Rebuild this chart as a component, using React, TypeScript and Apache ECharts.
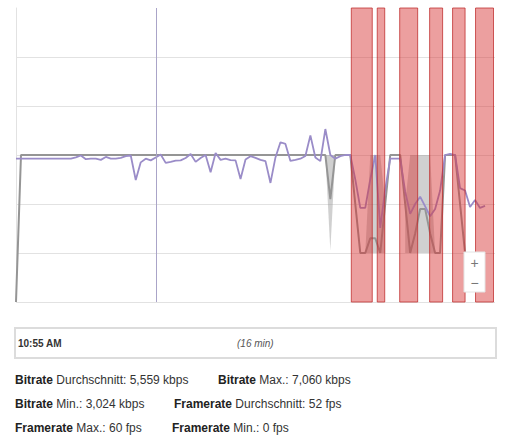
import React, { useEffect, useRef } from "react";
import * as echarts from "echarts";

// ---- data (one sample every 10 s, 10:55 AM + 16 min) ----
const bitrateKbps = [
  5850, 5850, 5850, 5850, 5850, 5850, 5850, 5850, 5850, 5850, 5850, 5850,
  5900, 5980, 5830, 5850, 5850, 5800, 5920, 5850, 5850, 5880, 5950, 5980,
  4980, 5700, 5850, 5780, 5900, 6020, 5680, 5720, 5770, 5780, 5880, 6040,
  5720, 5880, 6000, 5300, 6080, 5800, 5850, 5790, 5780, 5020, 5820, 5950,
  5880, 5800, 5750, 4860, 5900, 6520, 6450, 5760, 5800, 5850, 5960, 6800,
  5900, 5750, 7060, 6000, 5850, 5950, 6000, 6000, 5000, 3840, 3840, 5000,
  6000, 3024, 4600, 5850, 5850, 5850, 4500, 3600, 4000, 4300, 3900, 3500,
  3800, 4550, 6000, 6050, 6000, 4650, 4550, 3880, 4160, 3840, 3920,
];
const framerateFps = [
  0, 60, 60, 60, 60, 60, 60, 60, 60, 60, 60, 60, 60, 60, 60, 60, 60, 60, 60, 60,
  60, 60, 60, 60, 60, 60, 60, 60, 60, 60, 60, 60, 60, 60, 60, 60, 60, 60, 60, 60,
  60, 60, 60, 60, 60, 60, 60, 60, 60, 60, 60, 60, 60, 60, 60, 60, 60, 60, 60, 60,
  60, 60, 60, 42, 60, 60, 60, 60, 40, 20, 20, 26, 26, 20, 40, 60, 60, 60, 40, 20,
  28, 38, 38, 28, 20, 20, 60, 60, 60, 40, 20, 20, 20, 20,
];
// framerate min/max band (sample index, min, max)
const bandIdx = [62, 63, 64, 70, 71, 72, 73, 74, 78, 79, 80, 81, 82, 83, 84];
const bandMin = [60, 21, 60, 20, 20, 20, 20, 20, 20, 20, 20, 20, 20, 20, 20];
const bandMax = [60, 60, 60, 20, 60, 60, 60, 40, 40, 60, 60, 60, 60, 60, 20];
const bandSegStart = [0, 3, 8];
const bandSegEnd = [2, 7, 14];
// outage periods (sample index start, end)
const outageStart = [67.2, 72.4, 76.9, 82.9, 87.5, 92.1];
const outageEnd = [71.4, 73.9, 80.5, 85.5, 90.0, 95.7];
const markerIdx = 28.2;
const sampleCount = 96;
const bitrateTicks = [0, 12000, 2000];
const framerateTicks = [0, 120, 20];

const startLabel = "10:55 AM";
const durationLabel = "(16 min)";
const statNames = ["Bitrate", "Bitrate", "Bitrate", "Framerate", "Framerate", "Framerate"];
const statKinds = ["Durchschnitt:", "Max.:", "Min.:", "Durchschnitt:", "Max.:", "Min.:"];
const statValues = ["5,559 kbps", "7,060 kbps", "3,024 kbps", "52 fps", "60 fps", "0 fps"];

const FONT = '"Liberation Sans", Arial, sans-serif';
const statX = [15, 218, 15, 174, 15, 172];
const statY = [380, 380, 404, 404, 428, 428];

export default function App() {
  const ref = useRef<HTMLDivElement>(null);
  useEffect(() => {
    if (!ref.current) return;
    const chart = echarts.init(ref.current, undefined, { renderer: "svg" });

    const statGraphics = statNames.map((n, i) => ({
      type: "text",
      x: statX[i],
      y: statY[i],
      z: 100,
      style: {
        text: `{b|${n}} ${statKinds[i]} ${statValues[i]}`,
        fontSize: 12,
        fontFamily: FONT,
        fill: "#333",
        verticalAlign: "middle",
        rich: {
          b: { fontSize: 12, fontFamily: FONT, fontWeight: "bold", fill: "#222" },
        },
      },
    }));

    chart.setOption({
      animation: false,
      backgroundColor: "#fff",
      grid: { left: 16, right: 11, top: 8, bottom: 142 },
      xAxis: {
        type: "value",
        min: 0,
        max: sampleCount,
        show: false,
      },
      yAxis: [
        {
          type: "value",
          min: bitrateTicks[0],
          max: bitrateTicks[1],
          interval: bitrateTicks[2],
          axisLabel: { show: false },
          axisTick: { show: false },
          axisLine: { show: true, lineStyle: { color: "#e2e2e2", width: 1 } },
          splitLine: { show: true, showMaxLine: false, lineStyle: { color: "#e2e2e2", width: 1 } },
        },
        {
          type: "value",
          min: framerateTicks[0],
          max: framerateTicks[1],
          interval: framerateTicks[2],
          show: false,
          splitLine: { show: false },
        },
      ],
      series: [
        {
          type: "custom",
          name: "band",
          yAxisIndex: 1,
          z: 1,
          silent: true,
          data: bandSegStart.map((s, k) => [bandIdx[s], bandIdx[bandSegEnd[k]]]),
          renderItem: (params: any, api: any) => {
            const k = params.dataIndex;
            const pts: number[][] = [];
            for (let j = bandSegStart[k]; j <= bandSegEnd[k]; j++) pts.push(api.coord([bandIdx[j], bandMax[j]]));
            for (let j = bandSegEnd[k]; j >= bandSegStart[k]; j--) pts.push(api.coord([bandIdx[j], bandMin[j]]));
            return {
              type: "polygon",
              shape: { points: pts },
              style: { fill: "rgba(150,150,150,0.45)" },
            };
          },
        },
        {
          type: "line",
          name: "Framerate",
          yAxisIndex: 1,
          z: 3,
          symbol: "none",
          data: framerateFps.map((v, i) => [i, v]),
          lineStyle: { color: "#959595", width: 2 },
        },
        {
          type: "line",
          name: "Bitrate",
          yAxisIndex: 0,
          z: 4,
          symbol: "none",
          data: bitrateKbps.map((v, i) => [i, v]),
          lineStyle: { color: "#9a8cc8", width: 1.8 },
          markLine: {
            silent: true,
            symbol: "none",
            label: { show: false },
            lineStyle: { color: "#aaa4c8", type: "solid", width: 1 },
            data: [{ xAxis: markerIdx }],
          },
        },
        {
          type: "custom",
          name: "outage",
          yAxisIndex: 1,
          z: 10,
          silent: true,
          data: outageStart.map((s, i) => [s, outageEnd[i]]),
          renderItem: (params: any, api: any) => {
            const p1 = api.coord([api.value(0), framerateTicks[1]]);
            const p2 = api.coord([api.value(1), framerateTicks[0]]);
            return {
              type: "rect",
              shape: { x: p1[0], y: p1[1], width: p2[0] - p1[0], height: p2[1] - p1[1] },
              style: { fill: "rgba(215,50,50,0.47)", stroke: "rgba(190,40,40,0.75)", lineWidth: 1 },
            };
          },
        },
      ],
      graphic: [
        { type: "rect", z: 100, shape: { x: 464, y: 252, width: 21, height: 40 }, style: { fill: "#fff", stroke: "#e4e4e4", lineWidth: 1 } },
        { type: "text", z: 101, x: 474.5, y: 263, style: { text: "+", fontSize: 14, fontFamily: FONT, fill: "#777", align: "center", verticalAlign: "middle" } },
        { type: "text", z: 101, x: 474.5, y: 283, style: { text: "−", fontSize: 14, fontFamily: FONT, fill: "#777", align: "center", verticalAlign: "middle" } },
        { type: "rect", z: 100, shape: { x: 15, y: 328, width: 481, height: 30 }, style: { fill: "#fff", stroke: "#dcdcdc", lineWidth: 2 } },
        { type: "text", z: 101, x: 18, y: 343, style: { text: startLabel, fontSize: 10, fontWeight: "bold", fontFamily: FONT, fill: "#333", verticalAlign: "middle" } },
        { type: "text", z: 101, x: 237, y: 343, style: { text: durationLabel, fontSize: 10, fontStyle: "italic", fontFamily: FONT, fill: "#555", verticalAlign: "middle" } },
        ...statGraphics,
      ],
    });
    return () => chart.dispose();
  }, []);
  return (
    <div
      ref={ref}
      style={{ position: "fixed", left: 0, top: 0, width: 506, height: 444, background: "#fff" }}
    />
  );
}
